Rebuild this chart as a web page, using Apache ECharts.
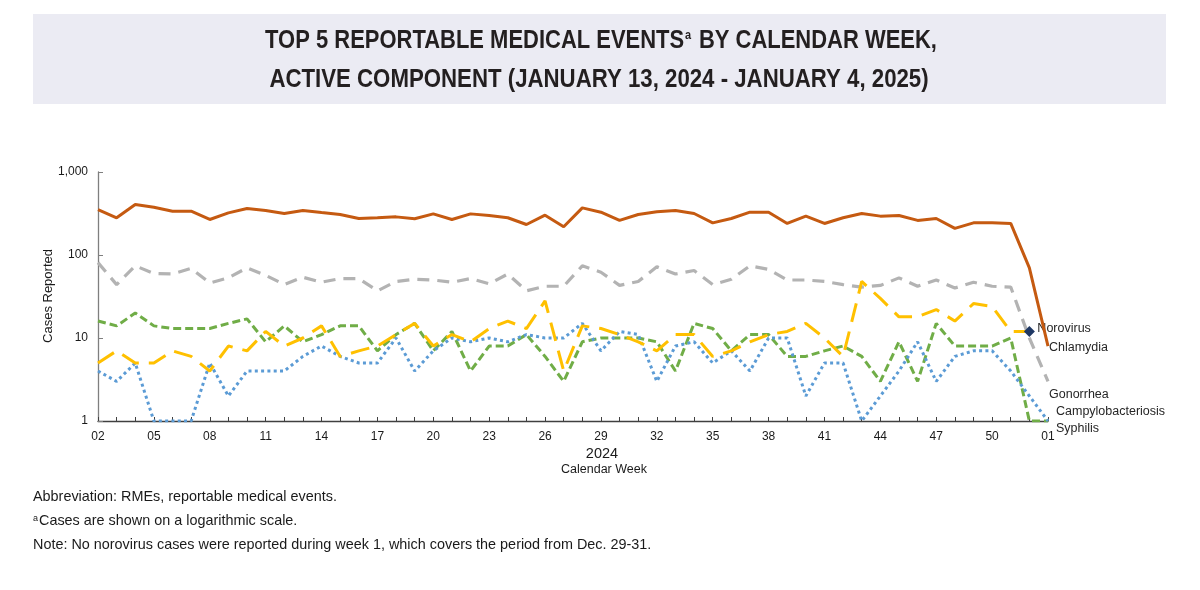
<!DOCTYPE html>
<html>
<head>
<meta charset="utf-8">
<script src="https://cdn.jsdelivr.net/npm/echarts@6/dist/echarts.min.js"></script>
<style>
html,body{margin:0;padding:0;background:#fff;}
#chart{width:1200px;height:590px;}
</style>
</head>
<body>
<div id="chart"></div>
<script>
const weeks = ['02','03','04','05','06','07','08','09','10','11','12','13','14','15','16','17','18','19','20','21','22','23','24','25','26','27','28','29','30','31','32','33','34','35','36','37','38','39','40','41','42','43','44','45','46','47','48','49','50','51','52','01'];
const chlamydia = [353,281,405,377,337,337,268,322,363,344,316,344,325,308,275,281,288,273,313,268,313,299,281,233,302,219,370,328,261,308,331,344,316,244,275,328,328,240,294,240,281,316,294,299,261,275,209,244,244,240,70,8];
const gonorrhea = [81,44,74,60,59,69,46,53,70,57,44,54,47,52,52,37,48,51,50,47,52,45,59,37,42,42,74,62,43,48,72,59,65,44,51,74,67,50,50,48,44,41,43,53,42,50,40,47,42,41,10,3];
const syphilis = [16,14,20,14,13,13,13,15,17,9,14,9,11,14,14,7,11,15,7,12,4,8,8,11,6,3,9,10,10,10,9,4,15,13,7,11,11,6,6,7,8,6,3,9,3,15,8,8,8,10,1,1];
const norovirus = [5,7,5,5,7,6,4,8,7,12,8,10,14,6,7,8,11,15,8,11,9,13,16,13,28,4,14,13,11,9,7,11,11,6,7,9,11,12,15,10,6,48,30,18,18,22,16,26,24,12,12,null];
const campylobacteriosis = [4,3,5,1,1,1,5,2,4,4,4,6,8,6,5,5,10,4,7,10,9,10,9,11,10,10,15,7,12,11,3,8,9,5,7,4,10,10,2,5,5,1,2,4,9,3,6,7,7,4,2,1];
const yTicks = ['1','10','100','1,000'];

const FONT = 'Liberation Sans, Arial, Helvetica, sans-serif';
const INK = '#1a1a1a';
const labelFont = {color:'#262626', fontFamily:FONT, fontSize:12.5};

function lastIdx(arr){ for(let i=arr.length-1;i>=0;i--){ if(arr[i]!=null) return i; } return -1; }
const noroLast = lastIdx(norovirus);
const noroData = norovirus.map((v,i)=> i===noroLast ? {value:v, symbol:'diamond', symbolSize:11, itemStyle:{color:'#1F3864'}} : v);

const titleRich = {
  m:{fontFamily:FONT, fontWeight:'bold', fontSize:26, fill:'#231F20', lineHeight:30},
  s:{fontFamily:FONT, fontWeight:'bold', fontSize:13, fill:'#231F20', lineHeight:13, verticalAlign:'top', padding:[3,2,0,1]}
};

const chart = echarts.init(document.getElementById('chart'), null, {renderer:'canvas'});
const option = {
  animation:false,
  backgroundColor:'#ffffff',
  graphic:[
    {type:'rect', shape:{x:33,y:14,width:1133,height:90}, style:{fill:'#EBEBF3'}, z:-1},
    {type:'text', x:601, y:41, scaleX:0.845, style:{text:'{m|TOP 5 REPORTABLE MEDICAL EVENTS}{s|a}{m| BY CALENDAR WEEK,}', rich:titleRich, textAlign:'center', textVerticalAlign:'middle'}},
    {type:'text', x:599, y:80, scaleX:0.855, style:{text:'ACTIVE COMPONENT (JANUARY 13, 2024 - JANUARY 4, 2025)', fontFamily:FONT, fontWeight:'bold', fontSize:26, fill:'#231F20', textAlign:'center', textVerticalAlign:'middle'}},
    {type:'text', x:48, y:296, rotation:Math.PI/2, style:{text:'Cases Reported', fontFamily:FONT, fontSize:13, fill:INK, textAlign:'center', textVerticalAlign:'middle'}},
    {type:'text', x:33, y:497, style:{text:'Abbreviation: RMEs, reportable medical events.', fontFamily:FONT, fontSize:14.4, fill:INK, textVerticalAlign:'middle'}},
    {type:'text', x:33, y:521, style:{text:'{s|a}{m|Cases are shown on a logarithmic scale.}', rich:{
        m:{fontFamily:FONT, fontSize:14.4, fill:INK, lineHeight:18},
        s:{fontFamily:FONT, fontSize:9, fill:INK, lineHeight:9, verticalAlign:'top', padding:[2,1,0,0]}
      }, textVerticalAlign:'middle'}},
    {type:'text', x:33, y:545, style:{text:'Note: No norovirus cases were reported during week 1, which covers the period from Dec. 29-31.', fontFamily:FONT, fontSize:14.4, fill:INK, textVerticalAlign:'middle'}},
    {type:'text', x:602, y:454, style:{text:'2024', fontFamily:FONT, fontSize:14.5, fill:INK, textAlign:'center', textVerticalAlign:'middle'}},
    {type:'text', x:604, y:470, style:{text:'Calendar Week', fontFamily:FONT, fontSize:12.5, fill:INK, textAlign:'center', textVerticalAlign:'middle'}}
  ],
  grid:{left:98, right:152, top:172, bottom:169, containLabel:false},
  xAxis:{
    type:'category', data:weeks, boundaryGap:false,
    axisLine:{lineStyle:{color:'#404040', width:1.3}},
    axisTick:{show:true, inside:true, length:4, alignWithLabel:true, interval:0, lineStyle:{color:'#404040'}},
    axisLabel:{interval:2, margin:10, color:INK, fontFamily:FONT, fontSize:12},
    splitLine:{show:false}
  },
  yAxis:{
    type:'log', logBase:10, min:1, max:1000,
    axisLine:{show:true, lineStyle:{color:'#7f7f7f', width:1.3}},
    axisTick:{show:true, inside:true, length:5, lineStyle:{color:'#7f7f7f'}},
    axisLabel:{margin:10, color:INK, fontFamily:FONT, fontSize:12,
      formatter:function(v){ const i = Math.round(Math.log10(v)); return yTicks[i] !== undefined ? yTicks[i] : ''; }},
    splitLine:{show:false}
  },
  series:[
    {name:'Gonorrhea', type:'line', data:gonorrhea, symbol:'none', z:2,
     lineStyle:{color:'#B3B3B3', width:3.2, type:[12,8]},
     endLabel:{show:true, formatter:'Gonorrhea', offset:[-2,13], distance:3, ...labelFont}},
    {name:'Syphilis', type:'line', data:syphilis, symbol:'none', z:3,
     lineStyle:{color:'#70AD47', width:3, type:[8,4]},
     endLabel:{show:true, formatter:'Syphilis', offset:[5,8], distance:3, ...labelFont}},
    {name:'Campylobacteriosis', type:'line', data:campylobacteriosis, symbol:'none', z:3,
     lineStyle:{color:'#5B9BD5', width:3, type:[3,3.3]},
     endLabel:{show:true, formatter:'Campylobacteriosis', offset:[5,-9], distance:3, ...labelFont}},
    {name:'Norovirus', type:'line', data:noroData, symbol:'none', showSymbol:true, z:4, connectNulls:false,
     lineStyle:{color:'#FFC000', width:3, type:[19,10]},
     endLabel:{show:true, formatter:'Norovirus', offset:[3,-3], distance:5, ...labelFont}},
    {name:'Chlamydia', type:'line', data:chlamydia, symbol:'none', z:5,
     lineStyle:{color:'#C55A11', width:3},
     endLabel:{show:true, formatter:'Chlamydia', offset:[-2,2], distance:3, ...labelFont}}
  ]
};
chart.setOption(option);
</script>
</body>
</html>
